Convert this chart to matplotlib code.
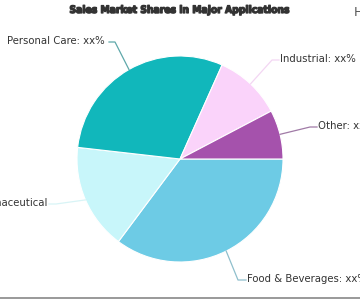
import numpy as np
import matplotlib
matplotlib.use("Agg")
import matplotlib.pyplot as plt
import matplotlib.patheffects as pe

title = "Sales Market Shares in Major Applications"
categories = ["Food & Beverages", "Pharmaceutical", "Personal Care", "Industrial", "Other"]
shares = [35.2, 16.6, 29.9, 10.6, 7.7]
labels = ["Food & Beverages: xx%", "Pharmaceutical", "Personal Care: xx%", "Industrial: xx%", "Other: xx%"]
colors = ["#6DCBE5", "#C8F6FA", "#11B7BB", "#FAD3FA", "#A552AC"]
line_colors = ["#8FBFCC", "#D8F4F6", "#5FA8AA", "#F3D6F3", "#A07AA6"]

W, H = 360, 300
fig = plt.figure(figsize=(W / 100, H / 100), dpi=100)
ax = fig.add_axes([0, 0, 1, 1])

cx, cy, R = 180, 159, 103
wedges, _ = ax.pie(shares, colors=colors, startangle=0, counterclock=True,
                   center=(cx, cy), radius=R,
                   wedgeprops=dict(linewidth=0.8, edgecolor="white"))
ax.set_xlim(0, W)
ax.set_ylim(H, 0)
ax.set_aspect("equal")
ax.axis("off")

# label placement (pixel layout): text x, text y, alignment, connector end x, elbow x
label_pos = {
    "Food & Beverages": (247, 279, "left", 246, 238),
    "Pharmaceutical": (47, 203, "right", 49, 56),
    "Personal Care": (7, 41, "left", 109, 115),
    "Industrial": (280, 59, "left", 279, 272),
    "Other": (318, 126, "left", 317, 310),
}
total = sum(shares)
cum = 0.0
for cat, val, lab, lc in zip(categories, shares, labels, line_colors):
    mid = np.deg2rad((cum + val / 2) / total * 360)
    cum += val
    ex, ey = cx + R * np.cos(mid), cy + R * np.sin(mid)
    lx, ly, ha, endx, kx = label_pos[cat]
    ax.plot([ex, kx, endx], [ey, ly + 1, ly + 1], color=lc, lw=0.9)
    ax.text(lx, ly, lab, ha=ha, va="center", fontsize=7.3, color="#333333",
            family="DejaVu Sans", clip_on=False)

ax.text(180, 10, title, ha="center", va="center", fontsize=7.4,
        fontweight="heavy", fontstretch="condensed", color="#333333",
        family="DejaVu Sans",
        path_effects=[pe.withStroke(linewidth=0.9, foreground="#333333")])
ax.text(354, 13, "H", ha="left", va="center", fontsize=9, color="#555555")
ax.plot([0, W], [298, 298], color="#888888", lw=1.2)

fig.savefig("out.png", dpi=100)
